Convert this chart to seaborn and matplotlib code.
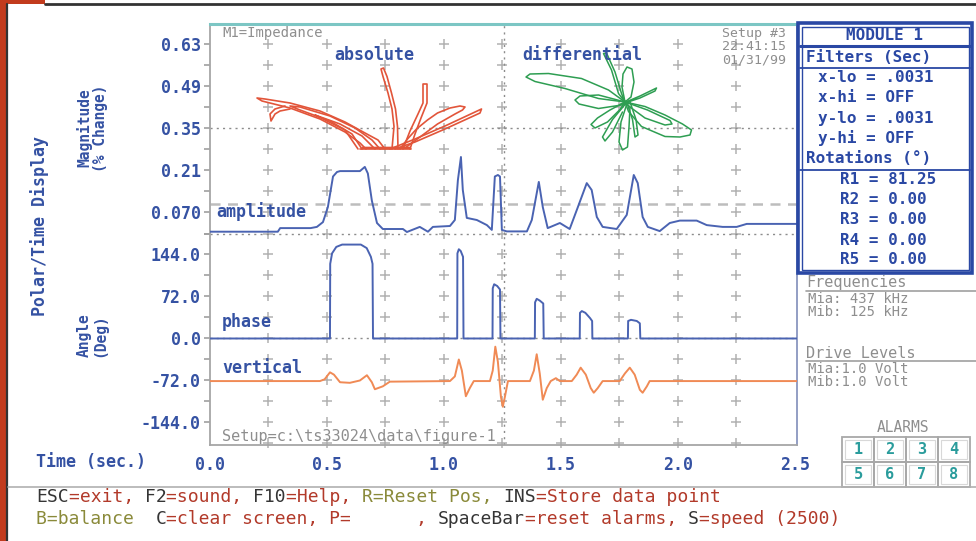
import numpy as np
import matplotlib
matplotlib.use("Agg")
import matplotlib.pyplot as plt
import seaborn as sns
from matplotlib.patches import Rectangle
from matplotlib.lines import Line2D

W, H = 976, 541

# ---------------- axis tick data ----------------
TIME_TICKS = [0.0, 0.5, 1.0, 1.5, 2.0, 2.5]
TIME_LABELS = ["0.0", "0.5", "1.0", "1.5", "2.0", "2.5"]
MAG_TICKS = [0.07, 0.21, 0.35, 0.49, 0.63]
MAG_LABELS = ["0.070", "0.21", "0.35", "0.49", "0.63"]
MAG_MINOR = [0.0, 0.14, 0.28, 0.42, 0.56]
ANG_TICKS = [-144, -72, 0, 72, 144]
ANG_LABELS = ["-144.0", "-72.0", "0.0", "72.0", "144.0"]
ANG_MINOR = [-108, -36, 36, 108, 180]
THRESHOLD_MAG = 0.098
CURSOR_T = 1.256

# ---------------- amplitude trace (magnitude, % change) ----------------
AMP_T = [0.0, 0.29, 0.30, 0.43, 0.457, 0.483, 0.504, 0.526, 0.543, 0.556, 0.641, 0.662,
         0.675, 0.692, 0.714, 0.739, 0.825, 0.842, 0.897, 0.932, 0.953, 1.026, 1.047,
         1.06, 1.073, 1.081, 1.098, 1.141, 1.184, 1.205, 1.218, 1.231, 1.24, 1.248,
         1.269, 1.355, 1.376, 1.406, 1.423, 1.444, 1.496, 1.538, 1.573, 1.611, 1.632,
         1.654, 1.679, 1.739, 1.782, 1.812, 1.829, 1.85, 1.872, 1.923, 1.966, 2.009,
         2.081, 2.124, 2.192, 2.252, 2.295, 2.51]
AMP_V = [0.006, 0.006, 0.018, 0.018, 0.022, 0.038, 0.088, 0.19, 0.205, 0.208, 0.208, 0.222,
         0.2, 0.11, 0.035, 0.015, 0.015, 0.005, 0.022, 0.006, 0.022, 0.025, 0.045,
         0.178, 0.255, 0.145, 0.052, 0.045, 0.028, 0.012, 0.19, 0.195, 0.19, 0.012,
         0.007, 0.007, 0.045, 0.172, 0.088, 0.018, 0.035, 0.015, 0.088, 0.168, 0.145,
         0.055, 0.022, 0.015, 0.062, 0.195, 0.168, 0.055, 0.022, 0.008, 0.035, 0.043,
         0.043, 0.028, 0.022, 0.022, 0.032, 0.032]

# ---------------- phase trace (deg) ----------------
PHASE_T = [0.0, 0.513, 0.514, 0.522, 0.54, 0.565, 0.645, 0.67, 0.688, 0.695, 0.697,
           1.057, 1.058, 1.064, 1.072, 1.082, 1.084,
           1.208, 1.209, 1.215, 1.228, 1.240, 1.242,
           1.389, 1.390, 1.397, 1.410, 1.425, 1.427,
           1.581, 1.582, 1.590, 1.605, 1.625, 1.634, 1.635,
           1.787, 1.788, 1.800, 1.825, 1.838, 1.840, 2.51]
PHASE_V = [0, 0, 128, 146, 157, 161, 161, 155, 140, 128, 0,
           0, 146, 153, 150, 140, 0,
           0, 86, 93, 90, 84, 0,
           0, 62, 68, 65, 60, 0,
           0, 44, 47, 44, 35, 30, 0,
           0, 30, 32, 30, 26, 0, 0]

# ---------------- vertical trace (deg) ----------------
VERT_T = [0.0, 0.47, 0.49, 0.513, 0.53, 0.556, 0.598, 0.641, 0.671, 0.692, 0.705, 0.739, 0.769,
          1.026, 1.047, 1.064, 1.077, 1.094, 1.111, 1.128,
          1.197, 1.209, 1.220, 1.231, 1.244, 1.252, 1.261, 1.274,
          1.368, 1.385, 1.397, 1.410, 1.423, 1.440, 1.457, 1.479, 1.496,
          1.547, 1.568, 1.585, 1.607, 1.628, 1.641, 1.658, 1.679,
          1.752, 1.774, 1.795, 1.816, 1.838, 1.850, 1.868, 1.880, 2.51]
VERT_V = [-73, -73, -70, -58, -62, -75, -76, -72, -63, -75, -87, -82, -74,
          -73, -65, -36, -55, -99, -85, -73,
          -73, -55, -14, -40, -100, -117, -100, -73,
          -73, -55, -27, -60, -105, -85, -73, -68, -73,
          -73, -62, -50, -62, -85, -93, -85, -73,
          -73, -60, -50, -62, -88, -93, -82, -73, -73]

# ---------------- impedance-plane loops (volts, relative to null point) ----------------
ABS_LEFT_1 = [(0, 0), (-0.14, 0.18), (-0.4, 0.32), (-0.8, 0.54), (-1.3, 0.76), (-1.9, 0.92),
              (-2.4, 1.0), (-2.56, 1.02), (-2.46, 0.96), (-1.9, 0.82), (-1.3, 0.6),
              (-0.8, 0.34), (-0.5, 0.12), (-0.38, 0)]
ABS_LEFT_2 = [(-0.1, 0), (-0.26, 0.18), (-0.6, 0.42), (-1.1, 0.66), (-1.7, 0.84), (-1.9, 0.86),
              (-1.7, 0.78), (-1.1, 0.56), (-0.66, 0.3), (-0.46, 0)]
ABS_LEFT_3 = [(-0.2, 0), (-0.46, 0.26), (-0.9, 0.5), (-1.4, 0.68), (-1.2, 0.58), (-0.8, 0.38),
              (-0.54, 0)]
ABS_HOOK = [(-1.9, 0.8), (-2.1, 0.76), (-2.2, 0.7), (-2.28, 0.56), (-2.3, 0.7), (-2.2, 0.8),
            (-2.0, 0.86)]
ABS_BASE = [(-0.5, 0), (0.52, 0), (0.5, 0.03), (-0.45, 0.03)]
ABS_UP = [(0.14, 0), (0.18, 0.45), (0.14, 0.8), (0.06, 1.12), (-0.04, 1.45), (-0.08, 1.6),
          (-0.03, 1.62), (0.04, 1.45), (0.13, 1.12), (0.21, 0.8), (0.25, 0.45), (0.26, 0)]
ABS_VERT = [(0.36, 0), (0.5, 0.36), (0.66, 0.7), (0.76, 0.92), (0.76, 1.3), (0.84, 1.3),
            (0.84, 0.92), (0.72, 0.62), (0.6, 0.3), (0.5, 0)]
ABS_RIGHT = [(0.3, 0), (0.45, 0.2), (0.63, 0.4), (0.85, 0.58), (1.05, 0.72), (1.3, 0.82),
             (1.5, 0.86), (1.6, 0.84), (1.55, 0.78), (1.4, 0.7), (1.05, 0.5), (0.7, 0.24),
             (0.4, 0.02)]
ABS_LINE = [(0.1, 0), (0.6, 0.2), (1.2, 0.46), (1.93, 0.8), (1.9, 0.72), (1.2, 0.4),
            (0.6, 0.14), (0.2, 0)]

DIF_UL = [(0, 0), (-0.33, 0.24), (-0.87, 0.47), (-1.53, 0.57), (-1.9, 0.56), (-1.98, 0.5),
          (-1.8, 0.41), (-1.2, 0.27), (-0.53, 0.07), (0, 0)]
DIF_LR = [(0, 0), (0.4, -0.09), (0.8, -0.26), (1.15, -0.44), (1.33, -0.56), (1.3, -0.66),
          (1.1, -0.7), (0.8, -0.69), (0.33, -0.49), (0.07, -0.19), (0, 0)]
DIF_LR2 = [(0, 0), (0.45, -0.16), (0.9, -0.37), (0.94, -0.44), (0.8, -0.46), (0.4, -0.32),
           (0.1, -0.1), (0, 0)]
DIF_UP = [(0, 0), (-0.06, 0.3), (-0.04, 0.56), (0.04, 0.7), (0.14, 0.66), (0.18, 0.4),
          (0.12, 0.1), (0, 0)]
DIF_UP2 = [(0, 0), (-0.13, 0.17), (-0.27, 0.64), (-0.43, 0.97), (-0.37, 0.98), (-0.2, 0.6),
           (-0.07, 0.17), (0, 0)]
DIF_UR = [(-0.1, -0.05), (0.3, 0.12), (0.63, 0.28), (0.6, 0.22), (0.3, 0.08), (0, -0.02)]
DIF_L = [(0, 0), (-0.53, 0.14), (-0.9, 0.12), (-1.0, 0.04), (-0.92, -0.04), (-0.53, -0.13),
         (0, -0.05)]
DIF_LL = [(0, 0), (-0.3, -0.16), (-0.55, -0.32), (-0.68, -0.45), (-0.6, -0.52), (-0.35, -0.4),
          (-0.1, -0.15), (0, 0)]
DIF_LL2 = [(0, -0.05), (-0.25, -0.35), (-0.45, -0.7), (-0.4, -0.78), (-0.25, -0.6),
           (-0.05, -0.2)]
DIF_DOWN = [(0.05, 0), (-0.08, -0.4), (-0.12, -0.8), (-0.05, -0.96), (0.05, -0.9),
            (0.08, -0.5), (0.1, -0.1)]
DIF_DOWN2 = [(0.05, -0.05), (0.15, -0.35), (0.2, -0.7), (0.26, -0.66), (0.22, -0.35), (0.1, 0)]

ABS_LOOPS = [ABS_LEFT_1, ABS_LEFT_2, ABS_LEFT_3, ABS_HOOK, ABS_BASE, ABS_UP, ABS_VERT,
             ABS_RIGHT, ABS_LINE]
DIF_LOOPS = [DIF_UL, DIF_LR, DIF_LR2, DIF_UP, DIF_UP2, DIF_UR, DIF_L, DIF_LL, DIF_LL2,
             DIF_DOWN, DIF_DOWN2]

# ---------------- panel texts ----------------
MODULE_TITLE = "MODULE 1"
FILTER_TITLE = "Filters (Sec)"
FILTER_LINES = ["x-lo = .0031", "x-hi = OFF", "y-lo = .0031", "y-hi = OFF"]
ROT_TITLE = "Rotations (°)"
ROT_LINES = ["R1 = 81.25", "R2 = 0.00", "R3 = 0.00", "R4 = 0.00", "R5 = 0.00"]
FREQ_LINES = ["Mia: 437 kHz", "Mib: 125 kHz"]
DRIVE_LINES = ["Mia:1.0 Volt", "Mib:1.0 Volt"]
SETUP_LINES = ["Setup #3", "22:41:15", "01/31/99"]
ALARM_NUMBERS = ["1", "2", "3", "4", "5", "6", "7", "8"]
STATUS_1 = [("ESC", "k"), ("=exit, ", "r"), ("F2", "k"), ("=sound, ", "r"), ("F10", "k"),
            ("=Help, ", "r"), ("R=Reset Pos, ", "o"), ("INS", "k"), ("=Store data point", "r")]
STATUS_2 = [("B=balance  ", "o"), ("C", "k"), ("=clear screen, P=      , ", "r"),
            ("SpaceBar", "k"), ("=reset alarms, ", "r"), ("S", "k"), ("=speed (2500)", "r")]

# ---------------- style ----------------
sns.set_theme(style="white")
MONO = ["DejaVu Sans Mono", "DejaVu Sans"]
plt.rcParams["font.family"] = MONO
BLUE = "#3552a3"
TRACE_BLUE = "#4a63b2"
ORANGE = "#f08a55"
RED_XY = "#e2553a"
GREEN_XY = "#2e9e52"
GRAY_TXT = "#8e8e8e"
BOX_BLUE = "#2a48a4"
TEAL = "#2a9c9c"
STATUS_COL = {"k": "#353535", "r": "#b23a2a", "o": "#8a8a3a"}

fig = plt.figure(figsize=(W / 100, H / 100), dpi=100)
fig.patch.set_facecolor("white")


def fx(px):
    return px / W


def fy(py):
    return 1 - py / H


def ftext(px, py, s, **kw):
    base = dict(ha="left", va="center", family=MONO)
    base.update(kw)
    return fig.text(fx(px), fy(py), s, **base)


def fline(x0, y0, x1, y1, **kw):
    fig.add_artist(Line2D([fx(x0), fx(x1)], [fy(y0), fy(y1)], transform=fig.transFigure, **kw))


def frect(x0, y0, x1, y1, **kw):
    fig.add_artist(Rectangle((fx(x0), fy(y1)), (x1 - x0) / W, (y1 - y0) / H,
                             transform=fig.transFigure, **kw))


# screen frame
frect(0, 0, 6, H, color="#c23b1d", lw=0)
frect(0, 0, 45, 4, color="#c23b1d", lw=0)
fline(7, 4, 7, H, color="#333333", lw=1.6)
fline(45, 4, W, 4, color="#333333", lw=2.0)

# main axes
ax_top = fig.add_axes([fx(210), fy(233.5), (797 - 210) / W, (233.5 - 24) / H])
ax_bot = fig.add_axes([fx(210), fy(445), (797 - 210) / W, (445 - 233.5) / H])
XMAX = 2.51
for ax in (ax_top, ax_bot):
    ax.set_xlim(0, XMAX)
    ax.set_facecolor("none")
ax_top.set_ylim(0, 0.6983)
ax_bot.set_ylim(-182.6, 180)

# "+" grid marks
PLUS_KW = dict(ms=7, mew=1.1, color="#b2b2b2", zorder=1, clip_on=False, ls="none", marker="+")
plus_t = np.arange(1, 10) * 0.25
tt, mm = np.meshgrid(plus_t, np.arange(0, 10) * 0.07)
ax_top.plot(tt.ravel(), mm.ravel(), **PLUS_KW)
tt, aa = np.meshgrid(plus_t, np.arange(-5, 5) * 36)
ax_bot.plot(tt.ravel(), aa.ravel(), **PLUS_KW)

# reference lines
DOT = (0, (1.5, 3))
ax_top.axhline(0.35, ls=DOT, color="#8c8c8c", lw=1.0, zorder=1)
ax_top.axhline(0.0, ls=DOT, color="#8c8c8c", lw=1.0, zorder=1, clip_on=False)
ax_top.axhline(THRESHOLD_MAG, ls=(0, (4, 3)), color="#bdbdbd", lw=1.8, zorder=1)
ax_bot.axhline(0.0, ls=DOT, color="#8c8c8c", lw=1.0, zorder=1)
ax_top.axvline(CURSOR_T, ls=DOT, color="#8c8c8c", lw=1.0, zorder=1)
ax_bot.axvline(CURSOR_T, ls=DOT, color="#8c8c8c", lw=1.0, zorder=1)

# traces
sns.lineplot(x=AMP_T, y=AMP_V, ax=ax_top, sort=False, estimator=None, color=TRACE_BLUE, lw=1.4, zorder=3)
sns.lineplot(x=PHASE_T, y=PHASE_V, ax=ax_bot, sort=False, estimator=None, color=TRACE_BLUE, lw=1.4, zorder=3)
sns.lineplot(x=VERT_T, y=VERT_V, ax=ax_bot, sort=False, estimator=None, color=ORANGE, lw=1.4, zorder=3)

# spines / ticks
for ax in (ax_top, ax_bot):
    for s in ax.spines.values():
        s.set_visible(True)
        s.set_color("#a6a6a6")
        s.set_linewidth(1.3)
    ax.spines["right"].set_color("#8a96bf")
    ax.set_xlabel("")
    ax.set_ylabel("")
ax_top.spines["bottom"].set_visible(False)
ax_top.spines["top"].set_color("#7cc6c4")
ax_top.spines["top"].set_linewidth(2.2)
ax_bot.spines["top"].set_visible(False)

ax_top.set_xticks([])
ax_top.set_yticks(MAG_TICKS, MAG_LABELS)
ax_top.set_yticks(MAG_MINOR, minor=True)
ax_bot.set_yticks(ANG_TICKS, ANG_LABELS)
ax_bot.set_yticks(ANG_MINOR, minor=True)
ax_bot.set_xticks(TIME_TICKS, TIME_LABELS)
for ax in (ax_top, ax_bot):
    ax.tick_params(axis="y", which="both", direction="out", length=4.5, width=1.2,
                   color="#a0a0a0", labelcolor=BLUE, labelsize=12, pad=2, left=True)
ax_bot.tick_params(axis="x", length=0, pad=8, labelcolor=BLUE, labelsize=12, bottom=True)
for ax in (ax_top, ax_bot):
    for lab in ax.get_yticklabels() + ax.get_xticklabels():
        lab.set_fontfamily(MONO)
        lab.set_fontweight("bold")

# impedance-plane overlays
rect = [fx(210), fy(233.5), (797 - 210) / W, (233.5 - 24) / H]
ax_abs = fig.add_axes(rect)
ax_abs.set_xlim((210 - 385) / 50, (797 - 385) / 50)
ax_abs.set_ylim((149 - 233.5) / 50, (149 - 24) / 50)
ax_dif = fig.add_axes(rect)
ax_dif.set_xlim((210 - 625) / 50, (797 - 625) / 50)
ax_dif.set_ylim((102 - 233.5) / 50, (102 - 24) / 50)
for loop in ABS_LOOPS:
    arr = np.array(loop, dtype=float)
    sns.lineplot(x=arr[:, 0], y=arr[:, 1], ax=ax_abs, sort=False, estimator=None, color=RED_XY, lw=1.2)
for loop in DIF_LOOPS:
    arr = np.array(loop, dtype=float)
    sns.lineplot(x=arr[:, 0], y=arr[:, 1], ax=ax_dif, sort=False, estimator=None, color=GREEN_XY, lw=1.1)
for ax in (ax_abs, ax_dif):
    ax.set_axis_off()
    ax.patch.set_visible(False)

# left labels
ftext(40, 226, "Polar/Time Display", rotation=90, ha="center", color=BLUE, size=12, weight="bold")
ftext(92, 128, "Magnitude\n(% Change)", rotation=90, ha="center", color=BLUE, size=10.5,
      weight="bold", linespacing=1.1, multialignment="center")
ftext(92, 335, "Angle\n(Deg)", rotation=90, ha="center", color=BLUE, size=10.5,
      weight="bold", linespacing=1.1, multialignment="center")
ftext(36, 462, "Time (sec.)", color=BLUE, size=12, weight="bold")

# labels inside the plot
ftext(222, 33, "M1=Impedance", color=GRAY_TXT, size=10)
for i, s in enumerate(SETUP_LINES):
    ftext(786, 33 + i * 13.5, s, ha="right", color=GRAY_TXT, size=9.5)
ftext(374, 55, "absolute", ha="center", color=BLUE, size=12, weight="bold")
ftext(582, 55, "differential", ha="center", color=BLUE, size=12, weight="bold")
ftext(216, 212, "amplitude", color=BLUE, size=12, weight="bold")
ftext(222, 322, "phase", color=BLUE, size=12, weight="bold")
ftext(222, 368, "vertical", color=BLUE, size=12, weight="bold")
ftext(222, 437, "Setup=c:\\ts33024\\data\\figure-1", color=GRAY_TXT, size=11)

# module box
frect(798, 23, 972, 273, fill=False, ec=BOX_BLUE, lw=2.6)
frect(801.5, 26.5, 968.5, 269.5, fill=False, ec=BOX_BLUE, lw=1.0)
fline(800, 46, 970, 46, color=BOX_BLUE, lw=2.2)
fline(800, 68, 970, 68, color=BOX_BLUE, lw=1.3)
fline(800, 170, 970, 170, color=BOX_BLUE, lw=1.3)
ftext(885, 35, MODULE_TITLE, ha="center", color=BOX_BLUE, size=11.5, weight="bold")
ftext(806, 58, FILTER_TITLE, color=BOX_BLUE, size=11.5, weight="bold")
for i, s in enumerate(FILTER_LINES):
    ftext(818, 78 + i * 20, s, color=BOX_BLUE, size=11.5, weight="bold")
ftext(806, 159, ROT_TITLE, color=BOX_BLUE, size=11.5, weight="bold")
for i, s in enumerate(ROT_LINES):
    ftext(840, 180 + i * 20, s, color=BOX_BLUE, size=11.5, weight="bold")

# frequencies / drive levels
ftext(806, 283, "Frequencies", color=GRAY_TXT, size=11)
fline(806, 291, 976, 291, color="#a0a0a0", lw=1.2)
for i, s in enumerate(FREQ_LINES):
    ftext(808, 299 + i * 13.5, s, color=GRAY_TXT, size=10)
ftext(806, 353, "Drive Levels", color=GRAY_TXT, size=11)
fline(806, 361, 976, 361, color="#a0a0a0", lw=1.2)
for i, s in enumerate(DRIVE_LINES):
    ftext(808, 369 + i * 13.5, s, color=GRAY_TXT, size=10)

# alarms
ftext(903, 427, "ALARMS", ha="center", color=GRAY_TXT, size=10.5)
for i, num in enumerate(ALARM_NUMBERS):
    c, r = i % 4, i // 4
    x0, y0 = 842 + c * 32, 437 + r * 25
    frect(x0, y0, x0 + 32, y0 + 25, fill=False, ec="#a8a8a8", lw=1.3)
    frect(x0 + 3, y0 + 3, x0 + 29, y0 + 22, fill=False, ec="#d8d8d8", lw=0.8)
    ftext(x0 + 16, y0 + 12.5, num, ha="center", color=TEAL, size=11, weight="bold")

# status bar
fline(8, 487, W, 487, color="#b0b0b0", lw=1.2)
SFS = 13
adv = 0.60205 * SFS * 100 / 72
for row, segs in ((497, STATUS_1), (519, STATUS_2)):
    n = 0
    for s, k in segs:
        ftext(36 + n * adv, row, s, color=STATUS_COL[k], size=SFS)
        n += len(s)

fig.savefig("out.png", dpi=100, facecolor="white")
